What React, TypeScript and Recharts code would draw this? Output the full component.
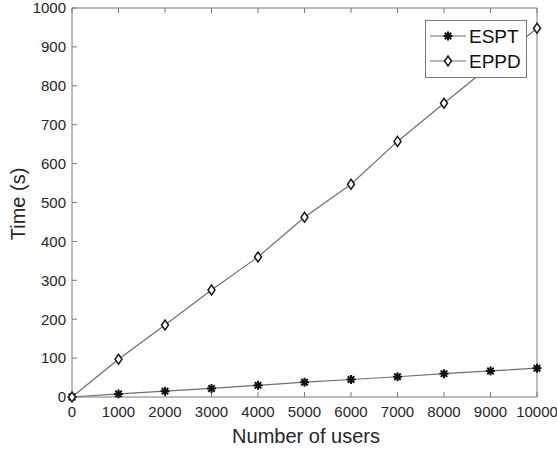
import { LineChart, Line, XAxis, YAxis } from 'recharts';

const users = [0, 1000, 2000, 3000, 4000, 5000, 6000, 7000, 8000, 9000, 10000];
const espt = [0, 8, 15, 22, 30, 38, 45, 52, 60, 67, 74];
const eppd = [0, 97, 185, 275, 360, 462, 547, 657, 755, 852, 948];
const yTicks = [0, 100, 200, 300, 400, 500, 600, 700, 800, 900, 1000];

const data = users.map((u, i) => ({ users: u, ESPT: espt[i], EPPD: eppd[i] }));

const FONT = '"Liberation Sans", Arial, Helvetica, sans-serif';
const AXIS = '#7a7a7a';
const LINE = '#6e6e6e';
const TEXT = '#262626';

function StarDot(props: any) {
  const { cx, cy } = props;
  if (cx == null || cy == null) return null;
  const r = 4.5;
  const d = r * 0.72;
  return (
    <g stroke="#111" strokeWidth={2}>
      <line x1={cx - r} y1={cy} x2={cx + r} y2={cy} />
      <line x1={cx} y1={cy - r} x2={cx} y2={cy + r} />
      <line x1={cx - d} y1={cy - d} x2={cx + d} y2={cy + d} />
      <line x1={cx - d} y1={cy + d} x2={cx + d} y2={cy - d} />
      <circle cx={cx} cy={cy} r={2.5} fill="#111" stroke="none" />
    </g>
  );
}

function DiamondDot(props: any) {
  const { cx, cy } = props;
  if (cx == null || cy == null) return null;
  return (
    <path
      d={`M${cx},${cy - 5} L${cx + 3.5},${cy} L${cx},${cy + 5} L${cx - 3.5},${cy} Z`}
      fill="#fff"
      stroke="#1a1a1a"
      strokeWidth={1.5}
    />
  );
}

// legend drawn as an overlay so it takes no room from the plot
function LegendBox() {
  return (
    <svg width={102} height={58} style={{ position: 'absolute', left: 425, top: 20, display: 'block' }}>
      <rect x={0.5} y={0.5} width={101} height={57} fill="#fff" stroke={AXIS} />
      <line x1={5} y1={16} x2={41} y2={16} stroke={LINE} />
      <StarDot cx={23} cy={16} />
      <text x={44} y={16} dominantBaseline="central" fontSize={19} fontFamily={FONT} fill="#111">
        ESPT
      </text>
      <line x1={5} y1={41} x2={41} y2={41} stroke={LINE} />
      <DiamondDot cx={23} cy={41} />
      <text x={44} y={41} dominantBaseline="central" fontSize={19} fontFamily={FONT} fill="#111">
        EPPD
      </text>
    </svg>
  );
}

export default function App() {
  const tickStyle = { fontSize: 15, fontFamily: FONT, fill: TEXT };
  return (
    <div style={{ position: 'fixed', left: 0, top: 0, width: 557, height: 452, background: '#fff' }}>
      <LineChart
        width={557}
        height={452}
        data={data}
        margin={{ top: 7, right: 19, bottom: 0, left: 0 }}
      >
        <XAxis
          dataKey="users"
          type="number"
          domain={[0, 10000]}
          ticks={users}
          interval={0}
          height={55}
          stroke={AXIS}
          tickSize={-5}
          tickMargin={14}
          tick={tickStyle}
          label={{
            content: () => (
              <text x={306} y={443} textAnchor="middle" fontSize={20} fontFamily={FONT} fill={TEXT}>
                Number of users
              </text>
            ),
          }}
        />
        <XAxis
          xAxisId="top"
          dataKey="users"
          type="number"
          orientation="top"
          domain={[0, 10000]}
          ticks={users}
          interval={0}
          height={1}
          stroke={AXIS}
          tickSize={-5}
          tickFormatter={() => ''}
        />
        <YAxis
          type="number"
          domain={[0, 1000]}
          ticks={yTicks}
          interval={0}
          width={72}
          stroke={AXIS}
          tickSize={-5}
          tickMargin={11}
          tick={tickStyle}
          label={{
            content: () => (
              <text
                x={18}
                y={204}
                transform="rotate(-90 18 204)"
                textAnchor="middle"
                dominantBaseline="central"
                fontSize={20}
                fontFamily={FONT}
                fill={TEXT}
              >
                Time (s)
              </text>
            ),
          }}
        />
        <YAxis
          yAxisId="right"
          orientation="right"
          type="number"
          domain={[0, 1000]}
          ticks={yTicks}
          interval={0}
          width={1}
          stroke={AXIS}
          tickSize={-5}
          tickFormatter={() => ''}
        />
        <Line
          dataKey="ESPT"
          stroke={LINE}
          strokeWidth={1.2}
          dot={<StarDot />}
          activeDot={false}
          isAnimationActive={false}
        />
        <Line
          dataKey="EPPD"
          stroke={LINE}
          strokeWidth={1.2}
          dot={<DiamondDot />}
          activeDot={false}
          isAnimationActive={false}
        />
      </LineChart>
      <LegendBox />
    </div>
  );
}
